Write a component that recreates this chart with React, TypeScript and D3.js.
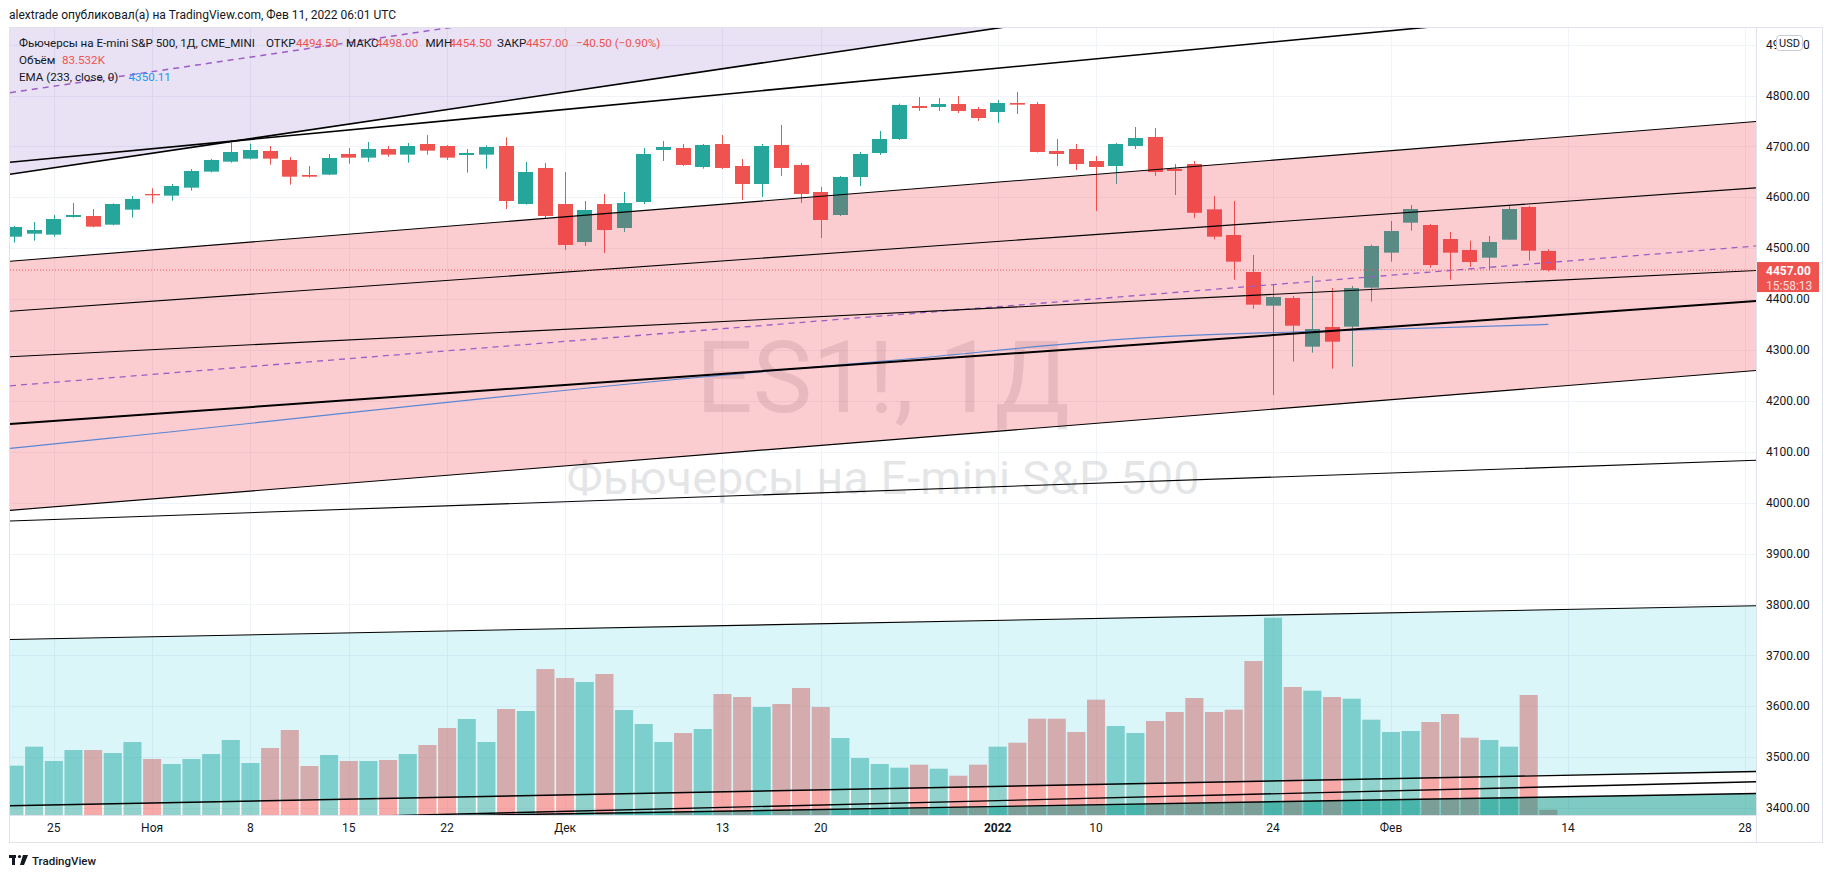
import * as d3 from 'd3';

const W = 1834;
const H = 878;
const plot = { left: 10, right: 1756, top: 27, bottom: 815 };

// daily bars, ES1! (CME_MINI)
const dates = [
  '2021-10-21', '2021-10-22', '2021-10-25', '2021-10-26', '2021-10-27', '2021-10-28', '2021-10-29',
  '2021-11-01', '2021-11-02', '2021-11-03', '2021-11-04', '2021-11-05',
  '2021-11-08', '2021-11-09', '2021-11-10', '2021-11-11', '2021-11-12',
  '2021-11-15', '2021-11-16', '2021-11-17', '2021-11-18', '2021-11-19',
  '2021-11-22', '2021-11-23', '2021-11-24', '2021-11-26',
  '2021-11-29', '2021-11-30', '2021-12-01', '2021-12-02', '2021-12-03',
  '2021-12-06', '2021-12-07', '2021-12-08', '2021-12-09', '2021-12-10',
  '2021-12-13', '2021-12-14', '2021-12-15', '2021-12-16', '2021-12-17',
  '2021-12-20', '2021-12-21', '2021-12-22', '2021-12-23',
  '2021-12-27', '2021-12-28', '2021-12-29', '2021-12-30', '2021-12-31',
  '2022-01-03', '2022-01-04', '2022-01-05', '2022-01-06', '2022-01-07',
  '2022-01-10', '2022-01-11', '2022-01-12', '2022-01-13', '2022-01-14',
  '2022-01-18', '2022-01-19', '2022-01-20', '2022-01-21',
  '2022-01-24', '2022-01-25', '2022-01-26', '2022-01-27', '2022-01-28',
  '2022-01-31', '2022-02-01', '2022-02-02', '2022-02-03', '2022-02-04',
  '2022-02-07', '2022-02-08', '2022-02-09', '2022-02-10', '2022-02-11',
];

const opens = [
  4522.6, 4528.5, 4526.6, 4561.3, 4563.3, 4546.2, 4575.7,
  4606.5, 4603.2, 4618.9, 4650.4, 4670.0,
  4675.9, 4691.0, 4673.3, 4643.8, 4644.5,
  4685.1, 4677.9, 4694.9, 4683.8, 4704.7,
  4700.8, 4683.1, 4683.8, 4700.8,
  4586.8, 4657.6, 4586.8, 4512.1, 4586.8,
  4539.7, 4590.8, 4692.9, 4696.9, 4659.5,
  4704.7, 4661.5, 4626.1, 4702.8, 4663.5,
  4610.4, 4565.2, 4639.9, 4687.0,
  4714.5, 4779.4, 4777.4, 4783.3, 4773.5,
  4767.6, 4785.3, 4783.3, 4691.0, 4694.9,
  4671.3, 4661.5, 4700.8, 4718.5, 4655.6,
  4665.4, 4576.3, 4525.9, 4453.2,
  4387.0, 4402.1, 4306.5, 4345.1, 4345.8,
  4422.4, 4491.2, 4550.1, 4545.5, 4518.0,
  4496.4, 4481.3, 4516.7, 4580.9, 4494.5,
];

const highs = [
  4543.6, 4551.5, 4565.2, 4588.8, 4577.0, 4588.1, 4602.5,
  4617.6, 4626.1, 4655.6, 4675.3, 4707.4,
  4705.5, 4700.8, 4679.2, 4661.5, 4685.1,
  4696.9, 4708.7, 4700.8, 4706.7, 4722.4,
  4702.5, 4694.9, 4702.1, 4717.8,
  4669.4, 4667.4, 4649.7, 4592.7, 4606.5,
  4610.4, 4696.9, 4710.6, 4704.7, 4704.7,
  4722.4, 4675.3, 4704.7, 4742.1, 4667.4,
  4620.3, 4641.9, 4689.0, 4730.3,
  4784.0, 4797.1, 4795.1, 4799.0, 4777.4,
  4791.2, 4807.0, 4787.3, 4714.5, 4704.7,
  4681.2, 4706.7, 4738.1, 4736.2, 4665.4,
  4671.3, 4602.5, 4592.7, 4486.6,
  4427.6, 4406.0, 4445.3, 4421.7, 4425.7,
  4506.9, 4553.4, 4584.8, 4547.5, 4531.8,
  4514.8, 4523.9, 4584.2, 4582.9, 4498.0,
];

const lows = [
  4510.9, 4514.8, 4522.6, 4560.0, 4541.0, 4544.9, 4560.0,
  4588.1, 4593.4, 4613.0, 4649.1, 4668.0,
  4674.5, 4664.1, 4624.8, 4638.6, 4643.5,
  4666.1, 4669.4, 4679.8, 4668.0, 4683.8,
  4673.3, 4648.4, 4656.2, 4577.0,
  4585.5, 4557.4, 4496.4, 4504.3, 4490.5,
  4531.8, 4586.8, 4671.3, 4661.5, 4656.3,
  4655.6, 4594.7, 4600.6, 4641.9, 4588.8,
  4520.0, 4563.0, 4622.2, 4683.1,
  4712.6, 4769.6, 4769.6, 4765.7, 4750.0,
  4746.0, 4763.7, 4688.0, 4661.5, 4653.7,
  4573.1, 4626.1, 4694.9, 4641.9, 4604.5,
  4559.3, 4517.4, 4438.1, 4381.1,
  4211.5, 4277.0, 4294.7, 4263.2, 4267.1,
  4394.9, 4473.5, 4534.4, 4461.7, 4438.1,
  4463.0, 4457.1, 4516.7, 4475.4, 4454.5,
];

const closes = [
  4541.6, 4535.7, 4557.3, 4565.2, 4542.3, 4586.8, 4596.7,
  4603.9, 4622.2, 4651.7, 4673.3, 4689.0,
  4692.9, 4675.9, 4640.5, 4640.5, 4677.2,
  4677.9, 4694.9, 4683.8, 4700.8, 4691.6,
  4677.9, 4687.0, 4698.8, 4592.7,
  4649.7, 4563.3, 4506.3, 4575.0, 4535.7,
  4588.8, 4685.1, 4698.8, 4663.5, 4702.8,
  4657.6, 4626.1, 4700.8, 4657.6, 4606.5,
  4555.4, 4639.9, 4685.1, 4714.5,
  4781.4, 4775.5, 4783.3, 4769.6, 4755.8,
  4785.3, 4782.0, 4689.0, 4685.1, 4665.4,
  4659.5, 4704.7, 4716.5, 4649.7, 4651.7,
  4569.5, 4522.6, 4473.5, 4389.0,
  4404.1, 4347.7, 4341.2, 4316.3, 4421.7,
  4504.3, 4533.7, 4577.0, 4466.9, 4491.2,
  4472.8, 4512.1, 4577.0, 4495.1, 4457.0,
];

// volume, thousands of contracts
const volumes = [
  789, 1093, 864, 1040, 1040, 992, 1168,
  896, 816, 896, 976, 1200,
  832, 1072, 1360, 784, 960,
  864, 864, 880, 976, 1120,
  1392, 1536, 1168, 1696,
  1664, 2336, 2192, 2128, 2256,
  1680, 1456, 1168, 1312, 1376,
  1936, 1888, 1728, 1776, 2032,
  1728, 1232, 912, 816,
  757, 805, 741, 629, 805,
  1093, 1157, 1541, 1541, 1328,
  1845, 1424, 1312, 1504, 1648,
  1872, 1648, 1685, 2464,
  3157, 2048, 1989, 1888, 1861,
  1525, 1328, 1344, 1488, 1616,
  1237, 1200, 1093, 1920, 83.532,
];

// EMA(233, close) read at a few bars
const emaIndex = [-0.3, 5, 35, 45, 58, 65, 78];
const emaValues = [4106.3, 4127.4, 4246.9, 4280.8, 4325.2, 4335.3, 4350.11];

const priceTicks = [4900, 4800, 4700, 4600, 4500, 4400, 4300, 4200, 4100, 4000, 3900, 3800, 3700, 3600, 3500, 3400];
const timeTickIndex = [2, 7, 12, 17, 22, 28, 36, 41, 50, 55, 64, 70, 79, 88];
const timeTickLabels = ['25', 'Ноя', '8', '15', '22', 'Дек', '13', '20', '2022', '10', '24', 'Фев', '14', '28'];

// drawings: anchors as [bar index, price]
const trendLines = [
  { id: 'L2', i: [0, 60], p: [4669.6, 4890.5] },
  { id: 'P2', i: [0, 88], p: [4376.6, 4617.0] },
  { id: 'P3', i: [0, 88], p: [4287.2, 4455.2] },
  { id: 'P4', i: [0, 88], p: [4155.1, 4394.5] },
  { id: 'LB', i: [0, 88], p: [3964.2, 4082.5] },
  { id: 'B', i: [0, 88], p: [3366.5, 3451.0] },
];
const purpleChannel = { i: [0, 40], p: [4646.5, 4875.3], width: 320.6 };
const pinkChannel = { i: [0, 88], top: [4474.9, 4747.3], bottom: [3985.6, 4258.0] };
const cyanChannel = { i: [0, 88], top: [3731.4, 3797.0], bottom: [3404.6, 3471.2] };
const tealChannel = { i: [0, 88], top: [3370.2, 3428.0], width: 200 };

const lastPrice = 4457.0;

const x = d3.scaleLinear().domain([2, 79]).range([53.8, 1568]);
const y = d3.scaleLinear().domain([3400, 4800]).range([808, 95.5]);
const step = x(1) - x(0);
const vMax = d3.max(volumes) as number;
const yVol = d3.scaleLinear().domain([0, vMax]).range([plot.bottom, plot.bottom - 197.3]);

const UP = '#26a69a';
const DOWN = '#ef5350';
const FONT = "Roboto, 'Liberation Sans', Arial, sans-serif";
const TXT = '#131722';

// line through two anchors, extended to the pane edges
function ends(i: number[], p: number[], shift = 0) {
  const slope = (p[1] - p[0]) / (i[1] - i[0]);
  const iL = x.invert(plot.left);
  const iR = x.invert(plot.right);
  return [
    [plot.left, y(p[0] + shift + slope * (iL - i[0]))],
    [plot.right, y(p[0] + shift + slope * (iR - i[0]))],
  ] as [number, number][];
}

function band(a: [number, number][], b: [number, number][]) {
  return `M${a[0][0]},${a[0][1]}L${a[1][0]},${a[1][1]}L${b[1][0]},${b[1][1]}L${b[0][0]},${b[0][1]}Z`;
}

function seg(s: [number, number][]) {
  return { x1: s[0][0], y1: s[0][1], x2: s[1][0], y2: s[1][1] };
}

const lineWidth: Record<string, number> = { L2: 1.6, P2: 1.1, P3: 1.1, P4: 2, LB: 1.1, B: 1.4 };

export default function App() {
  const bodyW = Math.round(step * 0.77);
  const volW = step - 1.6;

  const purpleLow = ends(purpleChannel.i, purpleChannel.p);
  const purpleMid = ends(purpleChannel.i, purpleChannel.p, purpleChannel.width / 2);
  const purpleTop = ends(purpleChannel.i, purpleChannel.p, purpleChannel.width);
  const pinkTop = ends(pinkChannel.i, pinkChannel.top);
  const pinkBot = ends(pinkChannel.i, pinkChannel.bottom);
  const pinkMid = ends(pinkChannel.i, pinkChannel.top.map((v, k) => (v + pinkChannel.bottom[k]) / 2));
  const cyanTop = ends(cyanChannel.i, cyanChannel.top);
  const cyanBot = ends(cyanChannel.i, cyanChannel.bottom);
  const tealTop = ends(tealChannel.i, tealChannel.top);
  const tealBot = ends(tealChannel.i, tealChannel.top, -tealChannel.width);

  const emaPath = d3
    .line<number>()
    .x((d) => x(d))
    .y((_, k) => y(emaValues[k]))
    .curve(d3.curveMonotoneX)(emaIndex) as string;

  const cx = (i: number) => Math.round(x(i)) + 0.5;
  const midX = (plot.left + plot.right) / 2;

  return (
    <div style={{ position: 'fixed', left: 0, top: 0 }}>
      <svg width={W} height={H} style={{ display: 'block', fontFamily: FONT }}>
        <defs>
          <clipPath id="pane">
            <rect x={plot.left} y={plot.top} width={plot.right - plot.left} height={plot.bottom - plot.top} />
          </clipPath>
        </defs>
        <rect width={W} height={H} fill="#fff" />

        {/* header */}
        <text x={9} y={19} fontSize={12} fill={TXT}>
          alextrade опубликовал(а) на TradingView.com, Фев 11, 2022 06:01 UTC
        </text>

        <g clipPath="url(#pane)">
          {/* grid */}
          {priceTicks.map((t) => (
            <line key={t} x1={plot.left} x2={plot.right} y1={Math.round(y(t)) + 0.5} y2={Math.round(y(t)) + 0.5} stroke="#f0f3fa" />
          ))}
          {timeTickIndex.map((t) => (
            <line key={t} x1={cx(t)} x2={cx(t)} y1={plot.top} y2={plot.bottom} stroke="#f0f3fa" />
          ))}

          {/* watermark */}
          <text x={midX} y={412} textAnchor="middle" fontSize={100} fill="rgba(149,152,161,0.25)">
            ES1!, 1Д
          </text>
          <text x={midX} y={494} textAnchor="middle" fontSize={47} fill="rgba(149,152,161,0.25)">
            Фьючерсы на E-mini S&amp;P 500
          </text>

          {/* volume */}
          {volumes.map((v, i) => (
            <rect
              key={i}
              x={x(i) - volW / 2}
              y={yVol(v)}
              width={volW}
              height={plot.bottom - yVol(v)}
              fill={closes[i] >= opens[i] ? 'rgba(38,166,154,0.5)' : 'rgba(239,83,80,0.5)'}
            />
          ))}

          {/* candles */}
          {dates.map((d, i) => {
            const up = closes[i] >= opens[i];
            const c = up ? UP : DOWN;
            const top = y(Math.max(opens[i], closes[i]));
            const bot = y(Math.min(opens[i], closes[i]));
            return (
              <g key={d}>
                <line x1={cx(i)} x2={cx(i)} y1={y(highs[i])} y2={y(lows[i])} stroke={c} />
                <rect x={Math.round(x(i) - bodyW / 2)} y={top} width={bodyW} height={Math.max(1, bot - top)} fill={c} />
              </g>
            );
          })}

          {/* drawings */}
          <path d={band(purpleTop, purpleLow)} fill="rgba(103,58,183,0.15)" />
          <path d={band(pinkTop, pinkBot)} fill="rgba(242,54,69,0.25)" />
          <path d={band(cyanTop, cyanBot)} fill="rgba(0,188,212,0.14)" />
          <path d={band(tealTop, tealBot)} fill="rgba(0,150,136,0.5)" />

          {/* EMA */}
          <path d={emaPath} fill="none" stroke="#5a86d4" strokeWidth={1.2} />

          <line {...seg(purpleLow)} stroke="#000" strokeWidth={1.6} />
          <line {...seg(purpleMid)} stroke="#9c5ec6" strokeWidth={1.5} strokeDasharray="6 5" />
          <line {...seg(pinkTop)} stroke="#000" strokeWidth={1.1} />
          <line {...seg(pinkBot)} stroke="#000" strokeWidth={1.1} />
          <line {...seg(pinkMid)} stroke="#9c5ec6" strokeWidth={1.3} strokeDasharray="6 5" />
          <line {...seg(cyanTop)} stroke="#000" strokeWidth={1.1} />
          <line {...seg(cyanBot)} stroke="#000" strokeWidth={1.4} />
          <line {...seg(tealTop)} stroke="#000" strokeWidth={1.4} />
          {trendLines.map((l) => (
            <line key={l.id} {...seg(ends(l.i, l.p))} stroke="#000" strokeWidth={lineWidth[l.id]} />
          ))}

          {/* last price line */}
          <line x1={plot.left} x2={plot.right} y1={y(lastPrice)} y2={y(lastPrice)} stroke={DOWN} strokeDasharray="1 2" />
        </g>

        {/* legend */}
        <g fontSize={11.6} fill={TXT}>
          <text x={19} y={46.5}>Фьючерсы на E-mini S&amp;P 500, 1Д, CME_MINI</text>
          <text x={266} y={46.5}>ОТКР</text>
          <text x={296} y={46.5} fill={DOWN}>4494.50</text>
          <text x={346} y={46.5}>МАКС</text>
          <text x={376} y={46.5} fill={DOWN}>4498.00</text>
          <text x={425.5} y={46.5}>МИН</text>
          <text x={449.6} y={46.5} fill={DOWN}>4454.50</text>
          <text x={497} y={46.5}>ЗАКР</text>
          <text x={526} y={46.5} fill={DOWN}>4457.00</text>
          <text x={576} y={46.5} fill={DOWN}>−40.50 (−0.90%)</text>
          <text x={19} y={64}>Объём</text>
          <text x={62} y={64} fill={DOWN}>83.532K</text>
          <text x={19} y={80.5}>EMA (233, close, 0)</text>
          <text x={128.6} y={80.5} fill="#2196f3">4350.11</text>
        </g>

        {/* frame */}
        <line x1={9} x2={1823} y1={27.5} y2={27.5} stroke="#e0e3eb" />
        <line x1={9.5} x2={9.5} y1={27} y2={842} stroke="#e0e3eb" />
        <line x1={1822.5} x2={1822.5} y1={27} y2={842} stroke="#e0e3eb" />
        <line x1={9} x2={1823} y1={842.5} y2={842.5} stroke="#e0e3eb" />
        <line x1={1756.5} x2={1756.5} y1={27} y2={842} stroke="#e0e3eb" />
        <line x1={9} x2={1756} y1={815.5} y2={815.5} stroke="#e0e3eb" />

        {/* price axis */}
        <g fontSize={12} fill={TXT}>
          {priceTicks.map((t) => (
            <text key={t} x={1766} y={y(t)} dy="0.35em">
              {t.toFixed(2)}
            </text>
          ))}
        </g>
        <rect x={1776.5} y={35.5} width={26} height={15} rx={3} fill="#fff" stroke="#c8cbd3" />
        <text x={1789.5} y={43} dy="0.35em" textAnchor="middle" fontSize={11} fill={TXT}>
          USD
        </text>
        <rect x={1757} y={y(lastPrice) - 8} width={62} height={30} fill={DOWN} />
        <text x={1766} y={y(lastPrice) + 5} fontSize={12} fontWeight="bold" fill="#fff">
          {lastPrice.toFixed(2)}
        </text>
        <text x={1766} y={y(lastPrice) + 19.5} fontSize={12} fill="#fcdcdc">
          15:58:13
        </text>

        {/* time axis */}
        <g fontSize={12} fill={TXT} textAnchor="middle">
          {timeTickIndex.map((t, k) => (
            <text key={t} x={x(t)} y={832} fontWeight={timeTickLabels[k] === '2022' ? 'bold' : 'normal'}>
              {timeTickLabels[k]}
            </text>
          ))}
        </g>

        {/* logo */}
        <g fill={TXT}>
          <rect x={9} y={855} width={7} height={3} />
          <rect x={12} y={855} width={3} height={10} />
          <circle cx={19.5} cy={856.5} r={1.6} />
          <path d="M23 855 L28 855 L24 865 L20 865 Z" />
          <text x={32} y={864.5} fontSize={11.5} fontWeight={500}>
            TradingView
          </text>
        </g>
      </svg>
    </div>
  );
}
